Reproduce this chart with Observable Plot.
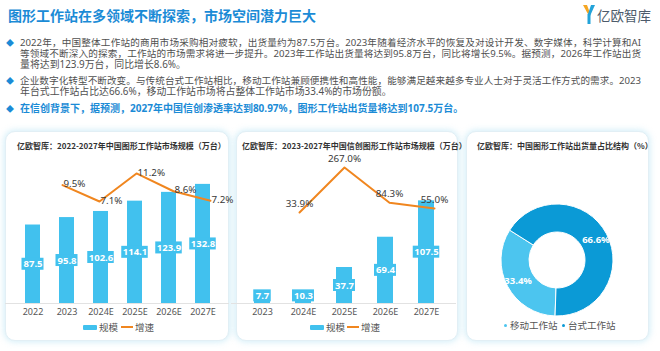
<!DOCTYPE html>
<html><head><meta charset="utf-8">
<script src="https://cdn.jsdelivr.net/npm/d3@7"></script>
<script src="https://cdn.jsdelivr.net/npm/@observablehq/plot@0.6"></script>
<style>
html,body{margin:0;padding:0;}
body{width:660px;height:351px;position:relative;overflow:hidden;background:#fff;font-family:"Noto Sans","Noto Sans CJK SC",sans-serif;}
#title{position:absolute;left:8px;top:5px;font:bold 14px/20px "Noto Sans CJK SC",sans-serif;color:#1b8bd6;white-space:nowrap;}
.ln{position:absolute;left:20px;width:621px;font-size:9.9px;line-height:11px;height:11px;color:#505050;font-family:"Noto Sans","Noto Sans CJK SC",sans-serif;overflow:visible;}
.j{text-align:justify;text-align-last:justify;font-size:9.6px;}
.b{font-weight:bold;color:#1b8bd6;font-size:10px;}
.dm{position:absolute;left:6px;font-size:8px;line-height:11px;color:#1b8bd6;}
.card{position:absolute;background:#fff;border:1px solid #e2eff5;border-radius:10px;box-shadow:0 0 6px 1px rgba(130,205,235,0.35);}
.ct{position:absolute;font:bold 8px/10px "Noto Sans CJK SC",sans-serif;color:#333;white-space:nowrap;}
.lg{position:absolute;font:9.5px/12px "Noto Sans CJK SC",sans-serif;color:#555;white-space:nowrap;}
.sw{position:absolute;}
.plot{position:absolute;}
#logo{position:absolute;left:597px;top:5px;font:13.5px/20px "Noto Sans CJK SC",sans-serif;color:#4d5b6b;white-space:nowrap;}
</style></head><body>
<div id="title">图形工作站在多领域不断探索，市场空间潜力巨大</div>
<svg style="position:absolute;left:582px;top:5px" width="14" height="19">
  <polygon points="1,0 5,0 8,8 7,11" fill="#f5a623"/>
  <polygon points="13,0 9,0 6,9 8,11" fill="#23a3d9"/>
  <rect x="5.5" y="9" width="3" height="10" fill="#23a3d9"/>
</svg>
<div id="logo">亿欧智库</div>

<div class="dm" style="top:36.5px">◆</div>
<div class="ln j" style="top:36.5px">2022年，中国整体工作站的商用市场采购相对疲软，出货量约为87.5万台。2023年随着经济水平的恢复及对设计开发、数字媒体，科学计算和AI</div>
<div class="ln j" style="top:47.5px">等领域不断深入的探索，工作站的市场需求将进一步提升。2023年工作站出货量将达到95.8万台，同比将增长9.5%。据预测，2026年工作站出货</div>
<div class="ln" style="top:58.5px">量将达到123.9万台，同比增长8.6%。</div>
<div class="dm" style="top:74.5px">◆</div>
<div class="ln j" style="top:74.5px">企业数字化转型不断改变。与传统台式工作站相比，移动工作站兼顾便携性和高性能，能够满足越来越多专业人士对于灵活工作方式的需求。2023</div>
<div class="ln" style="top:85.5px">年台式工作站占比达66.6%，移动工作站市场将占整体工作站市场33.4%的市场份额。</div>
<div class="dm" style="top:102.5px">◆</div>
<div class="ln b" style="top:102.5px">在信创背景下，据预测，2027年中国信创渗透率达到80.97%，图形工作站出货量将达到107.5万台。</div>

<div class="card" style="left:5px;top:131px;width:222px;height:208px"></div>
<div class="card" style="left:236px;top:131px;width:220px;height:208px"></div>
<div class="card" style="left:466px;top:131px;width:181px;height:208px"></div>

<div class="ct" style="left:17px;top:141px">亿欧智库：2022-2027年中国图形工作站市场规模（万台）</div>
<div class="ct" style="left:242px;top:141px">亿欧智库：2023-2027年中国信创图形工作站市场规模（万台）</div>
<div class="ct" style="left:477px;top:141px">亿欧智库：中国图形工作站出货量占比结构（%）</div>

<div id="c1" class="plot" style="left:5px;top:155px"></div>
<div id="c1g" class="plot" style="left:5px;top:155px"></div>
<div id="c2" class="plot" style="left:231px;top:155px"></div>
<div id="c2g" class="plot" style="left:231px;top:155px"></div>
<div id="c3" class="plot" style="left:466px;top:160px"></div>

<div id="legends"></div>

<script>
// ---- data ----
const years1 = ["2022","2023","2024E","2025E","2026E","2027E"];
const volume1 = [87.5,95.8,102.6,114.1,123.9,132.8];
const growthYears1 = ["2023","2024E","2025E","2026E","2027E"];
const growth1 = [9.5,7.1,11.2,8.6,7.2];

const years2 = ["2023","2024E","2025E","2026E","2027E"];
const volume2 = [7.7,10.3,37.7,69.4,107.5];
const growthYears2 = ["2024E","2025E","2026E","2027E"];
const growth2 = [33.9,267.0,84.3,55.0];

const shareNames = ["移动工作站","台式工作站"];
const shareValues = [33.4,66.6];

const seriesNames = ["规模","增速"];

const BAR = "#41c1ee", ORANGE = "#f0861f";

function combo(id, gid, cfg) {
  const vol = cfg.years.map((y,i)=>({year:y, value:cfg.volume[i], label:cfg.volume[i].toFixed(1)}));
  const gr = cfg.gYears.map((y,i)=>({year:y, value:cfg.growth[i], label:cfg.growth[i].toFixed(1)+"%"}));
  const xopt = {domain: cfg.years, paddingInner: cfg.padInner, paddingOuter: 0.5, label: null, tickSize: 0, tickPadding: 5};
  const common = {width: cfg.width, height: 165, marginLeft: 0, marginRight: 0, marginTop: 0, marginBottom: 17};
  const mid = d => Math.max(d.value/2, 8);
  const boxes = [3,4,5].map(len => Plot.barY(vol.filter(d=>d.label.length===len), {
    x:"year", y1: mid, y2: mid, fill: BAR,
    insetLeft: -((4.5*len+4) - cfg.bw)/2, insetRight: -((4.5*len+4) - cfg.bw)/2,
    insetTop: -6, insetBottom: -6
  }));
  const p = Plot.plot({
    ...common,
    style: {fontSize: "9px", color: "#555", fontFamily: "Noto Sans, sans-serif", background: "transparent", overflow: "visible"},
    x: xopt,
    y: {domain: cfg.yDomain, axis: null},
    marks: [
      Plot.ruleY([0], {stroke: "#e2e2e2"}),
      Plot.barY(vol, {x:"year", y:"value", fill: BAR}),
      ...boxes,
      Plot.text(vol, {x:"year", y: mid, text:"label", fill:"white", fontWeight:"bold", fontSize: 9.5})
    ]
  });
  document.getElementById(id).appendChild(p);
  const g = Plot.plot({
    ...common,
    style: {fontFamily: "Noto Sans, sans-serif", background: "transparent", overflow: "visible"},
    x: {...xopt, axis: null},
    y: {domain: cfg.gDomain, axis: null},
    marks: [
      Plot.line(gr, {x:"year", y:"value", stroke: ORANGE, strokeWidth: 2}),
      Plot.text(gr, {x:"year", y:"value", text:"label", fill:"#3a3a3a", fontSize: 9.8,
        textAnchor: cfg.gAnchor, dx: cfg.gdx, dy: cfg.gdy})
    ]
  });
  document.getElementById(gid).appendChild(g);
}

combo("c1","c1g",{years:years1, volume:volume1, gYears:growthYears1, growth:growth1,
  width:224, padInner:0.57, bw:15, yDomain:[0,165], gDomain:[-7.83,13.83], gAnchor:"start", gdx:1, gdy:-1});
combo("c2","c2g",{years:years2, volume:volume2, gYears:growthYears2, growth:growth2,
  width:225, padInner:0.617, bw:16, yDomain:[0,155], gDomain:[-437.6,329.2], gAnchor:"middle", gdx:0, gdy:-9});

// ---- donut ----
const shareColor = Plot.scale({color: {type: "ordinal", domain: shareNames, range: ["#4cc5ef", "#0b9ad6"]}});
const shares = shareNames.map((n,i)=>({name:n, value:shareValues[i]}));
const donutMark = () => {
  const g = d3.create("svg:g").attr("transform", "translate(91,100)");
  const arcs = d3.pie().sort(null).value(d=>d.value)
    .startAngle(182*Math.PI/180).endAngle(542*Math.PI/180)(shares);
  const arc = d3.arc().innerRadius(28).outerRadius(56);
  const lab = d3.arc().innerRadius(44).outerRadius(44);
  g.selectAll("path").data(arcs).join("path")
    .attr("d", arc).attr("fill", d=>shareColor.apply(d.data.name))
    .attr("stroke", "white").attr("stroke-width", 1);
  g.selectAll("text").data(arcs).join("text")
    .attr("transform", d=>`translate(${lab.centroid(d)})`)
    .attr("text-anchor","middle").attr("dy","0.35em")
    .attr("fill","white").attr("font-weight","bold").attr("font-size", 9.5)
    .text(d=>d.data.value.toFixed(1)+"%");
  return g.node();
};
document.getElementById("c3").appendChild(Plot.plot({
  width: 182, height: 200, margin: 0,
  style: {fontFamily: "Noto Sans, sans-serif", background: "transparent"},
  marks: [donutMark]
}));

// ---- legends ----
const L = document.getElementById("legends");
function add(html){ L.insertAdjacentHTML("beforeend", html); }
[[83,121],[310,347]].forEach(([s1,s2])=>{
  add(`<div class="sw" style="left:${s1}px;top:324.5px;width:14px;height:5px;background:${BAR};border-radius:1px"></div>`);
  add(`<div class="lg" style="left:${s1+16}px;top:321px">${seriesNames[0]}</div>`);
  add(`<div class="sw" style="left:${s2}px;top:326px;width:12px;height:2px;background:${ORANGE}"></div>`);
  add(`<div class="lg" style="left:${s2+14}px;top:321px">${seriesNames[1]}</div>`);
});
[[504,0],[562,1]].forEach(([x,i])=>{
  add(`<div class="sw" style="left:${x}px;top:323.5px;width:3px;height:3px;border-radius:2px;background:${shareColor.apply(shareNames[i])}"></div>`);
  add(`<div class="lg" style="left:${x+6}px;top:319px">${shareNames[i]}</div>`);
});
</script>
</body></html>
